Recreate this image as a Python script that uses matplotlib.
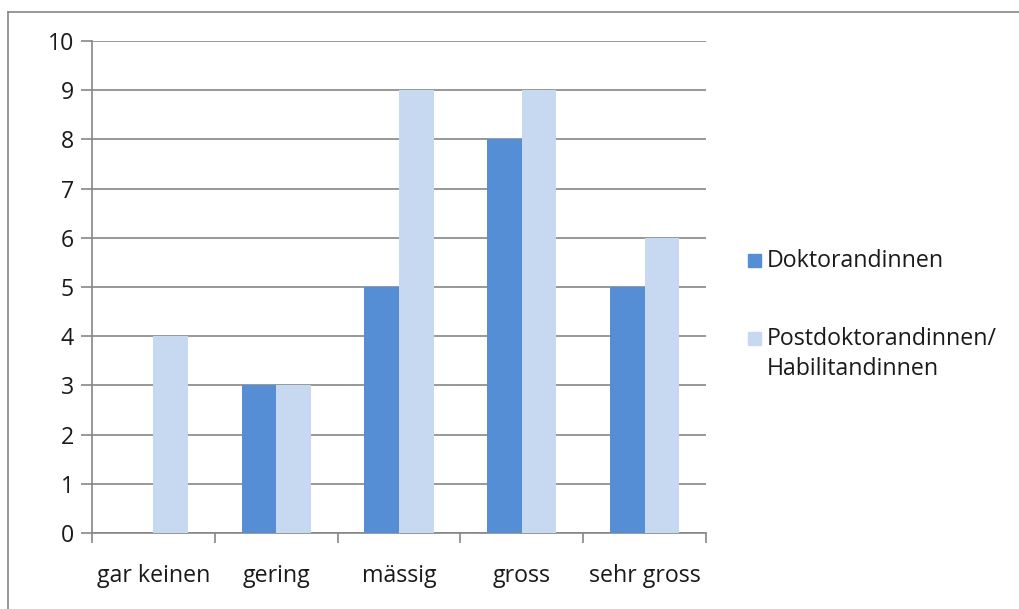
import matplotlib.pyplot as plt
import numpy as np
from matplotlib.lines import Line2D
from matplotlib.patches import Rectangle

plt.rcParams['font.family'] = ['Open Sans', 'DejaVu Sans']

kategorien = ['gar keinen', 'gering', 'mässig', 'gross', 'sehr gross']
doktorandinnen = [0, 3, 5, 8, 5]
postdoktorandinnen = [4, 3, 9, 9, 6]
serien = ['Doktorandinnen', 'Postdoktorandinnen/', 'Habilitandinnen']

dunkel = '#558ED5'
hell = '#C6D9F1'
grau = '#868686'
text_farbe = '#1a1a1a'
fs = 16.7

W, H = 1019, 609
fig = plt.figure(figsize=(W / 100, H / 100), dpi=100)
ax = fig.add_axes([92 / W, 1 - 533 / H, (706 - 92) / W, (533 - 41) / H])

x = np.arange(len(kategorien))
b = 0.282
ax.bar(x - b / 2, doktorandinnen, b, color=dunkel, zorder=3)
ax.bar(x + b / 2, postdoktorandinnen, b, color=hell, zorder=3)

ax.set_xlim(-0.5, len(kategorien) - 0.5)
ax.set_ylim(0, 10)
ax.set_yticks(range(0, 11))
ax.grid(axis='y', color=grau, linewidth=1.2, zorder=0)

ax.set_xticks(np.arange(-0.5, len(kategorien)), minor=False)
ax.set_xticklabels([])
ax.set_xticks(x, minor=True)
ax.set_xticklabels(kategorien, minor=True)
ax.tick_params(axis='x', which='major', length=7, color=grau, width=1.2)
ax.tick_params(axis='x', which='minor', length=0, pad=22, labelsize=fs, labelcolor=text_farbe)
ax.tick_params(axis='y', length=8, color=grau, width=1.2, pad=5, labelsize=fs, labelcolor=text_farbe)

for s in ['top', 'right']:
    ax.spines[s].set_visible(False)
for s in ['left', 'bottom']:
    ax.spines[s].set_color(grau)
    ax.spines[s].set_linewidth(1.2)

# Legende
for farbe, yc in [(dunkel, 260), (hell, 338)]:
    fig.add_artist(Rectangle((748 / W, 1 - (yc + 6.5) / H), 13 / W, 13 / H,
                             color=farbe, transform=fig.transFigure))
fig.text(767 / W, 1 - 261 / H, serien[0], fontsize=fs, va='center', color=text_farbe)
fig.text(767 / W, 1 - 339 / H, serien[1], fontsize=fs, va='center', color=text_farbe)
fig.text(767 / W, 1 - 369 / H, serien[2], fontsize=fs, va='center', color=text_farbe)

# Rahmen oben und links
fig.add_artist(Line2D([8 / W, 1], [1 - 12 / H, 1 - 12 / H], color=grau, linewidth=1.2))
fig.add_artist(Line2D([8 / W, 8 / W], [0, 1 - 12 / H], color=grau, linewidth=1.2))

fig.savefig('out.png', dpi=100)
